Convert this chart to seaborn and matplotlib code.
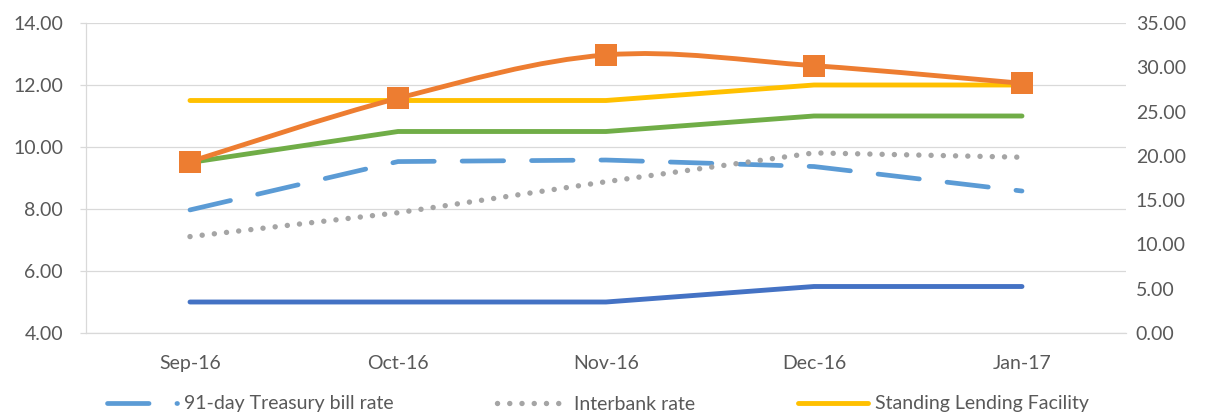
import matplotlib
matplotlib.use("Agg")
import matplotlib.pyplot as plt
import numpy as np
import seaborn as sns
from matplotlib.path import Path
from matplotlib.patches import PathPatch

# ---- data ----
months = ["Sep-16", "Oct-16", "Nov-16", "Dec-16", "Jan-17"]
tbill_91day = [7.97, 9.53, 9.58, 9.37, 8.58]          # left axis, dashed
interbank = [7.11, 7.88, 8.88, 9.81, 9.67]            # left axis, dotted
standing_lending = [11.50, 11.50, 11.50, 12.00, 12.00]  # left axis
dark_blue_rate = [5.00, 5.00, 5.00, 5.50, 5.50]       # left axis
green_rate = [9.50, 10.50, 10.50, 11.00, 11.00]       # left axis
orange_rate = [19.34, 26.50, 31.39, 30.18, 28.19]     # right axis, smoothed

left_ticks = [4, 6, 8, 10, 12, 14]
right_ticks = [0, 5, 10, 15, 20, 25, 30, 35]

BLUE_LIGHT = "#5B9BD5"
GRAY = "#A5A5A5"
YELLOW = "#FFC000"
BLUE_DARK = "#4472C4"
GREEN = "#70AD47"
ORANGE = "#ED7D31"
AXIS_GRAY = "#D9D9D9"
TEXT_GRAY = "#595959"

sns.set_style("white")
plt.rcParams["font.family"] = ["Lato", "DejaVu Sans"]

fig = plt.figure(figsize=(12.09, 4.16), dpi=100)
ax = fig.add_axes([86 / 1209, 1 - 333 / 416, (1126 - 86) / 1209, (333 - 23) / 416])
ax2 = ax.twinx()

x = np.arange(len(months))
lw = 3.5

sns.lineplot(x=x, y=tbill_91day, ax=ax, color=BLUE_LIGHT, linewidth=3.4,
             linestyle=(0, (8.8, 5.9)), dash_capstyle="round",
             label="91-day Treasury bill rate")
sns.lineplot(x=x, y=interbank, ax=ax, color=GRAY, linewidth=3.9,
             linestyle=(0, (0.01, 2.25)), dash_capstyle="round",
             label="Interbank rate")
sns.lineplot(x=x, y=standing_lending, ax=ax, color=YELLOW, linewidth=lw,
             solid_capstyle="round", label="Standing Lending Facility")
sns.lineplot(x=x, y=dark_blue_rate, ax=ax, color=BLUE_DARK, linewidth=lw,
             solid_capstyle="round")
sns.lineplot(x=x, y=green_rate, ax=ax, color=GREEN, linewidth=lw,
             solid_capstyle="round")

# smoothed line on the secondary axis (Catmull-Rom through the data points)
n = len(orange_rate)
verts = [(x[0], orange_rate[0])]
codes = [Path.MOVETO]
for i in range(n - 1):
    p0 = max(i - 1, 0)
    p3 = min(i + 2, n - 1)
    c1 = (x[i] + (x[i + 1] - x[p0]) / 6, orange_rate[i] + (orange_rate[i + 1] - orange_rate[p0]) / 6)
    c2 = (x[i + 1] - (x[p3] - x[i]) / 6, orange_rate[i + 1] - (orange_rate[p3] - orange_rate[i]) / 6)
    verts += [c1, c2, (x[i + 1], orange_rate[i + 1])]
    codes += [Path.CURVE4] * 3
ax2.add_patch(PathPatch(Path(verts, codes), fill=False, edgecolor=ORANGE,
                        linewidth=lw, capstyle="round", joinstyle="round"))
sns.scatterplot(x=x, y=orange_rate, ax=ax2, marker="s", s=16.5 ** 2,
                color=ORANGE, edgecolor=ORANGE, linewidth=0, zorder=5)

# axes styling
ax.set_xlim(-0.5, len(months) - 0.5)
ax.set_ylim(4, 14)
ax2.set_ylim(0, 35)
ax.set_yticks(left_ticks)
ax.set_yticklabels([f"{v:.2f}" for v in left_ticks])
ax2.set_yticks(right_ticks)
ax2.set_yticklabels([f"{v:.2f}" for v in right_ticks])
ax.set_xticks(x)
ax.set_xticklabels(months)
ax.set_xticks(np.arange(-0.5, len(months)), minor=True)

ax.grid(axis="y", color=AXIS_GRAY, linewidth=0.9)
ax.set_axisbelow(True)
for side in ["top", "right"]:
    ax.spines[side].set_visible(False)
for side in ["left", "bottom"]:
    ax.spines[side].set_color(AXIS_GRAY)
    ax.spines[side].set_linewidth(0.9)
for side in ax2.spines:
    ax2.spines[side].set_visible(False)

ax.tick_params(axis="x", which="major", length=0, pad=16, labelsize=14, labelcolor=TEXT_GRAY)
ax.tick_params(axis="x", which="minor", length=4, width=0.9, color=AXIS_GRAY, direction="out")
ax.tick_params(axis="y", length=4.5, width=0.9, color=AXIS_GRAY, direction="out",
               pad=12, labelsize=14, labelcolor=TEXT_GRAY)
ax2.tick_params(axis="y", length=0, pad=7, labelsize=14, labelcolor=TEXT_GRAY)
ax.set_xlabel("")
ax.set_ylabel("")
ax2.set_ylabel("")

handles, labels = ax.get_legend_handles_labels()
ax.get_legend().remove()
if ax2.get_legend() is not None:
    ax2.get_legend().remove()
fig.legend(handles, labels, loc="center left", bbox_to_anchor=(107 / 1209, 1 - 404 / 416),
           ncol=3, frameon=False, fontsize=14, labelcolor=TEXT_GRAY,
           handlelength=3.6, handletextpad=0.36, columnspacing=5.3,
           borderpad=0, borderaxespad=0)

fig.savefig("out.png", dpi=100)
